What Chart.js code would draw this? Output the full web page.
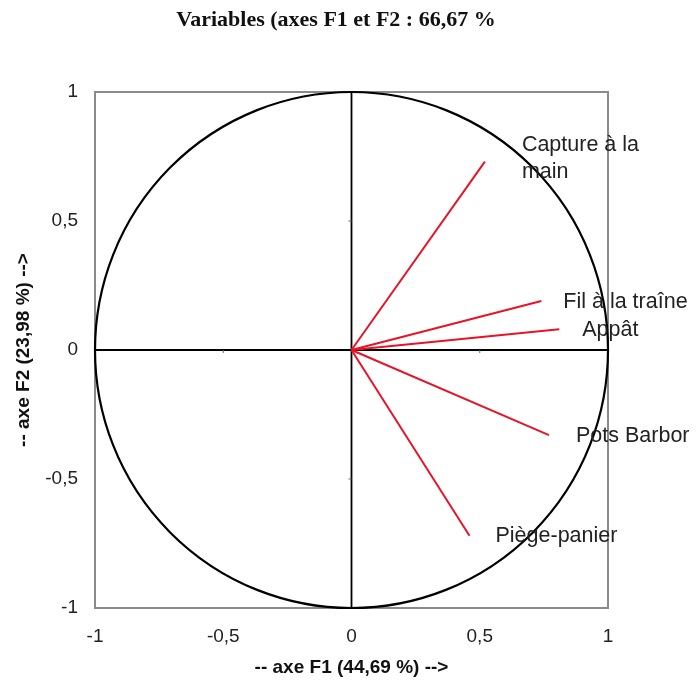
<!DOCTYPE html>
<html>
<head>
<meta charset="utf-8">
<script src="https://cdn.jsdelivr.net/npm/chart.js@4.4.1/dist/chart.umd.min.js"></script>
<style>
  html, body { margin: 0; padding: 0; background: #fff; }
  #wrap { width: 698px; height: 692px; }
</style>
</head>
<body>
<div id="wrap"><canvas id="c" width="698" height="692"></canvas></div>
<script>
// variables and their coordinates on F1 / F2
const varNames = ['Capture à la main', 'Fil à la traîne', 'Appât', 'Pots Barbor', 'Piège-panier'];
const f1Values = [0.52, 0.74, 0.81, 0.77, 0.46];
const f2Values = [0.73, 0.19, 0.08, -0.33, -0.72];
// label lines for each variable
const labelLines = [['Capture à la', 'main'], ['Fil à la traîne'], ['Appât'], ['Pots Barbor'], ['Piège-panier']];
const tickValues = [-1, -0.5, 0, 0.5, 1];

const chartTitle = 'Variables (axes F1 et F2 : 66,67 %';
const xTitle = '-- axe F1 (44,69 %) -->';
const yTitle = '-- axe F2 (23,98 %) -->';

function fmt(v) {
    if (v === 0) return '0';
    return String(v).replace('.', ',');
}

const datasets = varNames.map(function (name, i) {
    return {
        label: name,
        data: [{x: 0, y: 0}, {x: f1Values[i], y: f2Values[i]}],
        borderColor: 'rgb(230,20,40)',
        borderWidth: 2,
        pointRadius: 0,
        showLine: true,
    };
});

const decor = {
    id: 'decor',
    beforeDatasetsDraw(chart) {
        const ctx = chart.ctx;
        const xs = chart.scales.x, ys = chart.scales.y;
        const a = chart.chartArea;
        ctx.save();
        // frame
        ctx.strokeStyle = '#8a8a8a';
        ctx.lineWidth = 2;
        ctx.strokeRect(a.left, a.top, a.right - a.left, a.bottom - a.top);
        // axes through origin
        const x0 = xs.getPixelForValue(0), y0 = ys.getPixelForValue(0);
        ctx.strokeStyle = '#000';
        ctx.lineWidth = 1.8;
        ctx.beginPath();
        ctx.moveTo(x0, a.top); ctx.lineTo(x0, a.bottom);
        ctx.moveTo(a.left, y0); ctx.lineTo(a.right, y0);
        ctx.stroke();
        // small ticks on the axes
        ctx.lineWidth = 1;
        ctx.strokeStyle = '#666';
        ctx.beginPath();
        [-0.5, 0.5].forEach(function (v) {
            const py = ys.getPixelForValue(v), px = xs.getPixelForValue(v);
            ctx.moveTo(x0 - 3, py); ctx.lineTo(x0, py);
            ctx.moveTo(px, y0); ctx.lineTo(px, y0 + 3);
        });
        ctx.stroke();
        // correlation circle
        const rx = (xs.getPixelForValue(1) - xs.getPixelForValue(-1)) / 2;
        const ry = (ys.getPixelForValue(-1) - ys.getPixelForValue(1)) / 2;
        ctx.strokeStyle = '#000';
        ctx.lineWidth = 2.2;
        ctx.beginPath();
        ctx.ellipse(x0, y0, rx, ry, 0, 0, Math.PI * 2);
        ctx.stroke();
        ctx.restore();
    },
    afterDraw(chart) {
        const ctx = chart.ctx;
        const xs = chart.scales.x, ys = chart.scales.y;
        ctx.save();
        // title
        ctx.fillStyle = '#111';
        ctx.font = 'bold 22px "Liberation Serif", "Times New Roman", serif';
        ctx.textAlign = 'center';
        ctx.textBaseline = 'middle';
        ctx.fillText(chartTitle, 336, 20);
        // variable labels
        ctx.font = '21.5px "Liberation Sans", Arial, sans-serif';
        ctx.fillStyle = '#222';
        ctx.textAlign = 'left';
        labelLines.forEach(function (lines, i) {
            const px = xs.getPixelForValue(f1Values[i]);
            const py = ys.getPixelForValue(f2Values[i]);
            let lx = px + 22, ly = py;
            if (i === 0) { lx = px + 37; ly = py - 17; }
            if (i === 1) { ly = py + 1; }
            if (i === 2) { lx = px + 23; ly = py + 1; }
            if (i === 3) { lx = px + 27; ly = py + 1; }
            if (i === 4) { lx = px + 26; ly = py + 0; }
            lines.forEach(function (t, k) {
                ctx.fillText(t, lx, ly + k * 27);
            });
        });
        ctx.restore();
    }
};

new Chart(document.getElementById('c'), {
    type: 'scatter',
    data: { datasets: datasets },
    options: {
        responsive: false,
        animation: false,
        layout: { padding: { top: 92, right: 90, left: 0, bottom: 0 } },
        plugins: { legend: { display: false }, tooltip: { enabled: false } },
        scales: {
            x: {
                type: 'linear',
                min: -1, max: 1,
                afterBuildTicks: function (s) { s.ticks = tickValues.map(v => ({value: v})); },
                afterFit: function (s) { s.height = 84; },
                grid: { display: false, drawTicks: false },
                border: { display: false },
                ticks: {
                    padding: 17,
                    color: '#222',
                    font: { family: '"Liberation Sans", Arial, sans-serif', size: 19 },
                    callback: function (v) { return fmt(v); },
                },
                title: {
                    display: true,
                    text: xTitle,
                    color: '#111',
                    padding: { top: 0, bottom: 13 },
                    font: { family: '"Liberation Sans", Arial, sans-serif', size: 19, weight: 'bold' },
                },
            },
            y: {
                type: 'linear',
                min: -1, max: 1,
                afterBuildTicks: function (s) { s.ticks = tickValues.map(v => ({value: v})); },
                afterFit: function (s) { s.width = 95; },
                grid: { display: false, drawTicks: false },
                border: { display: false },
                ticks: {
                    padding: 17,
                    color: '#222',
                    font: { family: '"Liberation Sans", Arial, sans-serif', size: 19 },
                    callback: function (v) { return fmt(v); },
                },
                title: {
                    display: true,
                    text: yTitle,
                    color: '#111',
                    padding: { top: 12, bottom: 0 },
                    font: { family: '"Liberation Sans", Arial, sans-serif', size: 19, weight: 'bold' },
                },
            },
        },
    },
    plugins: [decor],
});
</script>
</body>
</html>
